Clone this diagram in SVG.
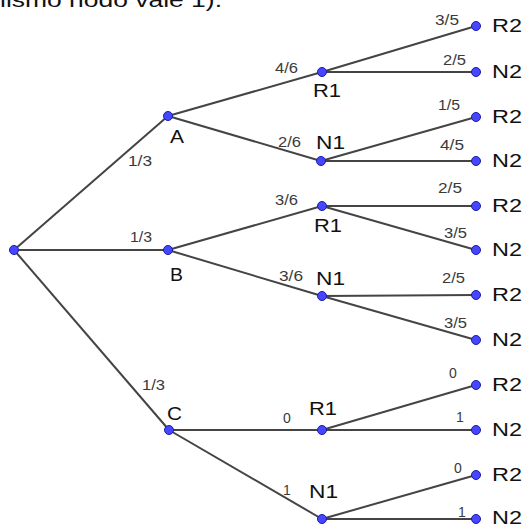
<svg xmlns="http://www.w3.org/2000/svg" width="525" height="526" viewBox="0 0 525 526">
<style>
.e{stroke:#444;stroke-width:2;fill:none}
.n{fill:#4646ff;stroke:#1c1ca8;stroke-width:1}
.nl{font-family:"Liberation Sans",Arial,sans-serif;font-size:19px;fill:#111}
.el{font-family:"Liberation Sans",Arial,sans-serif;font-size:14px;fill:#3a3a3a}
.top{font-family:"Liberation Sans",Arial,sans-serif;font-size:21px;fill:#111}
</style>
<rect width="525" height="526" fill="#fff"/>
<text class="top" x="0" y="7" textLength="222" lengthAdjust="spacingAndGlyphs">lismo nodo vale 1).</text>
<g id="connectors">
<line class="e" x1="14" y1="250" x2="168" y2="116"/>
<line class="e" x1="14" y1="250" x2="168" y2="250"/>
<line class="e" x1="14" y1="250" x2="169" y2="430"/>
<line class="e" x1="168" y1="116" x2="322" y2="72"/>
<line class="e" x1="168" y1="116" x2="321" y2="161"/>
<line class="e" x1="168" y1="250" x2="322" y2="206"/>
<line class="e" x1="168" y1="250" x2="322" y2="296"/>
<line class="e" x1="169" y1="430" x2="322" y2="430"/>
<line class="e" x1="169" y1="430" x2="322" y2="519"/>
<line class="e" x1="322" y1="72" x2="476" y2="26"/>
<line class="e" x1="322" y1="72" x2="476" y2="72"/>
<line class="e" x1="321" y1="161" x2="476" y2="117"/>
<line class="e" x1="321" y1="161" x2="476" y2="161"/>
<line class="e" x1="322" y1="206" x2="476" y2="206"/>
<line class="e" x1="322" y1="206" x2="476" y2="250"/>
<line class="e" x1="322" y1="296" x2="476" y2="295"/>
<line class="e" x1="322" y1="296" x2="476" y2="340"/>
<line class="e" x1="322" y1="430" x2="476" y2="385"/>
<line class="e" x1="322" y1="430" x2="476" y2="430"/>
<line class="e" x1="322" y1="519" x2="476" y2="475"/>
<line class="e" x1="322" y1="519" x2="476" y2="519"/>
<text class="el" x="128" y="166" textLength="24" lengthAdjust="spacingAndGlyphs">1/3</text>
<text class="el" x="130" y="242" textLength="22" lengthAdjust="spacingAndGlyphs">1/3</text>
<text class="el" x="142" y="390" textLength="23" lengthAdjust="spacingAndGlyphs">1/3</text>
<text class="el" x="275" y="73" textLength="23" lengthAdjust="spacingAndGlyphs">4/6</text>
<text class="el" x="278" y="147" textLength="23" lengthAdjust="spacingAndGlyphs">2/6</text>
<text class="el" x="275" y="205" textLength="23" lengthAdjust="spacingAndGlyphs">3/6</text>
<text class="el" x="279" y="281" textLength="24" lengthAdjust="spacingAndGlyphs">3/6</text>
<text class="el" x="283" y="423">0</text>
<text class="el" x="283" y="495">1</text>
<text class="el" x="435" y="25" textLength="24" lengthAdjust="spacingAndGlyphs">3/5</text>
<text class="el" x="443" y="65" textLength="23" lengthAdjust="spacingAndGlyphs">2/5</text>
<text class="el" x="438" y="110" textLength="22" lengthAdjust="spacingAndGlyphs">1/5</text>
<text class="el" x="440" y="150" textLength="24" lengthAdjust="spacingAndGlyphs">4/5</text>
<text class="el" x="438" y="193" textLength="24" lengthAdjust="spacingAndGlyphs">2/5</text>
<text class="el" x="444" y="238" textLength="23" lengthAdjust="spacingAndGlyphs">3/5</text>
<text class="el" x="442" y="283" textLength="23" lengthAdjust="spacingAndGlyphs">2/5</text>
<text class="el" x="444" y="328" textLength="23" lengthAdjust="spacingAndGlyphs">3/5</text>
<text class="el" x="449" y="378">0</text>
<text class="el" x="456" y="422">1</text>
<text class="el" x="454" y="473">0</text>
<text class="el" x="458" y="517">1</text>
</g>
<g id="root"><circle class="n" cx="14" cy="250" r="4.5"/></g>
<g id="A"><circle class="n" cx="168" cy="116" r="4.5"/><text class="nl" x="170" y="143" textLength="14" lengthAdjust="spacingAndGlyphs">A</text></g>
<g id="B"><circle class="n" cx="168" cy="250" r="4.5"/><text class="nl" x="170" y="281" textLength="13" lengthAdjust="spacingAndGlyphs">B</text></g>
<g id="C"><circle class="n" cx="169" cy="430" r="4.5"/><text class="nl" x="167" y="420" textLength="15" lengthAdjust="spacingAndGlyphs">C</text></g>
<g id="AR1"><circle class="n" cx="322" cy="72" r="4.5"/><text class="nl" x="313" y="97" textLength="28" lengthAdjust="spacingAndGlyphs">R1</text></g>
<g id="AN1"><circle class="n" cx="321" cy="161" r="4.5"/><text class="nl" x="316" y="149" textLength="29" lengthAdjust="spacingAndGlyphs">N1</text></g>
<g id="BR1"><circle class="n" cx="322" cy="206" r="4.5"/><text class="nl" x="314" y="232" textLength="28" lengthAdjust="spacingAndGlyphs">R1</text></g>
<g id="BN1"><circle class="n" cx="322" cy="296" r="4.5"/><text class="nl" x="316" y="285" textLength="29" lengthAdjust="spacingAndGlyphs">N1</text></g>
<g id="CR1"><circle class="n" cx="322" cy="430" r="4.5"/><text class="nl" x="309" y="415" textLength="28" lengthAdjust="spacingAndGlyphs">R1</text></g>
<g id="CN1"><circle class="n" cx="322" cy="519" r="4.5"/><text class="nl" x="309" y="498" textLength="29" lengthAdjust="spacingAndGlyphs">N1</text></g>
<g id="L1"><circle class="n" cx="476" cy="26" r="4.5"/><text class="nl" x="492" y="32" textLength="30" lengthAdjust="spacingAndGlyphs">R2</text></g>
<g id="L2"><circle class="n" cx="476" cy="72" r="4.5"/><text class="nl" x="492" y="78" textLength="30" lengthAdjust="spacingAndGlyphs">N2</text></g>
<g id="L3"><circle class="n" cx="476" cy="117" r="4.5"/><text class="nl" x="492" y="123" textLength="30" lengthAdjust="spacingAndGlyphs">R2</text></g>
<g id="L4"><circle class="n" cx="476" cy="161" r="4.5"/><text class="nl" x="492" y="167" textLength="30" lengthAdjust="spacingAndGlyphs">N2</text></g>
<g id="L5"><circle class="n" cx="476" cy="206" r="4.5"/><text class="nl" x="492" y="212" textLength="30" lengthAdjust="spacingAndGlyphs">R2</text></g>
<g id="L6"><circle class="n" cx="476" cy="250" r="4.5"/><text class="nl" x="492" y="256" textLength="30" lengthAdjust="spacingAndGlyphs">N2</text></g>
<g id="L7"><circle class="n" cx="476" cy="295" r="4.5"/><text class="nl" x="492" y="301" textLength="30" lengthAdjust="spacingAndGlyphs">R2</text></g>
<g id="L8"><circle class="n" cx="476" cy="340" r="4.5"/><text class="nl" x="492" y="346" textLength="30" lengthAdjust="spacingAndGlyphs">N2</text></g>
<g id="L9"><circle class="n" cx="476" cy="385" r="4.5"/><text class="nl" x="492" y="391" textLength="30" lengthAdjust="spacingAndGlyphs">R2</text></g>
<g id="L10"><circle class="n" cx="476" cy="430" r="4.5"/><text class="nl" x="492" y="436" textLength="30" lengthAdjust="spacingAndGlyphs">N2</text></g>
<g id="L11"><circle class="n" cx="476" cy="475" r="4.5"/><text class="nl" x="492" y="481" textLength="30" lengthAdjust="spacingAndGlyphs">R2</text></g>
<g id="L12"><circle class="n" cx="476" cy="519" r="4.5"/><text class="nl" x="492" y="524" textLength="30" lengthAdjust="spacingAndGlyphs">N2</text></g>
</svg>
